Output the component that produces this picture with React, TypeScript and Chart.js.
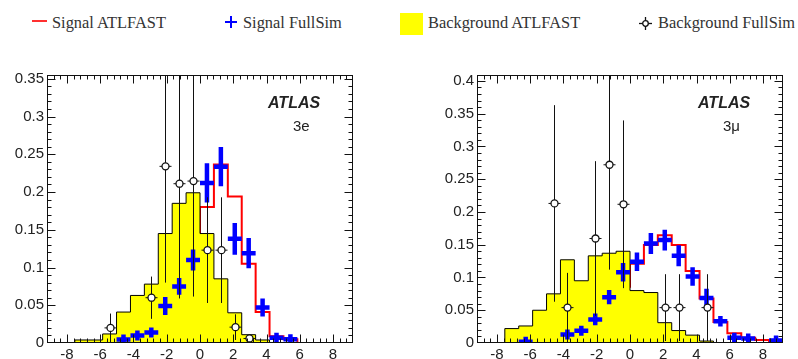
import React, { useEffect, useRef } from 'react';
import { Chart, registerables } from 'chart.js';

Chart.register(...registerables);

// ---- binning / axes ----
const X_MIN = -9.2;
const X_MAX = 9.2;
const N_BINS = 22;
const xTickValues = [-8, -6, -4, -2, 0, 2, 4, 6, 8];
const xTickLabels = ['-8', '-6', '-4', '-2', '0', '2', '4', '6', '8'];

const yMax3e = 0.355;
const yTickValues3e = [0, 0.05, 0.1, 0.15, 0.2, 0.25, 0.3, 0.35];
const yTickLabels3e = ['0', '0.05', '0.1', '0.15', '0.2', '0.25', '0.3', '0.35'];

const yMax3mu = 0.409;
const yTickValues3mu = [0, 0.05, 0.1, 0.15, 0.2, 0.25, 0.3, 0.35, 0.4];
const yTickLabels3mu = ['0', '0.05', '0.1', '0.15', '0.2', '0.25', '0.3', '0.35', '0.4'];

// ---- 3e channel ----
const bgAtlfast3e = [0, 0, 0.004, 0.004, 0.012, 0.041, 0.063, 0.078, 0.145, 0.185, 0.199, 0.145, 0.085, 0.040, 0.011, 0.004, 0, 0, 0, 0, 0, 0];
const sigAtlfast3e = [0, 0, 0, 0, 0, 0.006, 0.010, 0.012, 0.037, 0.070, 0.121, 0.180, 0.2365, 0.194, 0.105, 0.041, 0.009, 0.005, 0, 0, 0, 0];
const sigFullsim3e = [null, null, null, null, null, 0.0045, 0.010, 0.014, 0.049, 0.075, 0.110, 0.212, 0.2335, 0.138, 0.119, 0.047, 0.007, 0.005, null, null, null, null];
const sigFullsimErr3e = [0, 0, 0, 0, 0, 0.003, 0.004, 0.005, 0.012, 0.011, 0.014, 0.026, 0.026, 0.021, 0.020, 0.012, 0.003, 0.003, 0, 0, 0, 0];
const bgFullsim3e = [null, null, null, null, 0.020, null, null, 0.060, 0.234, 0.211, 0.2145, 0.123, 0.123, 0.021, 0.006, null, null, null, null, null, null, null];
const bgFullsimErr3e = [0, 0, 0, 0, 0.019, 0, 0, 0.028, 0.154, 0.152, 0.153, 0.070, 0.070, 0.017, 0.005, 0, 0, 0, 0, 0, 0, 0];

// ---- 3mu channel ----
const bgAtlfast3mu = [0, 0, 0.022, 0.026, 0.050, 0.075, 0.127, 0.095, 0.133, 0.137, 0.140, 0.080, 0.077, 0.031, 0.019, 0.012, 0.003, 0, 0, 0, 0, 0];
const sigAtlfast3mu = [0, 0, 0, 0, 0.002, 0.002, 0.012, 0.017, 0.035, 0.054, 0.086, 0.121, 0.1495, 0.1645, 0.1495, 0.110, 0.068, 0.032, 0.0147, 0.008, 0.0045, 0.001];
const sigFullsim3mu = [null, null, null, 0.002, null, null, 0.013, 0.0186, 0.036, 0.070, 0.108, 0.124, 0.152, 0.157, 0.133, 0.1015, 0.0687, 0.0333, 0.008, 0.007, null, 0.004];
const sigFullsimErr3mu = [0, 0, 0, 0.002, 0, 0, 0.004, 0.005, 0.009, 0.011, 0.014, 0.014, 0.016, 0.016, 0.016, 0.014, 0.014, 0.008, 0.003, 0.003, 0, 0.002];
const bgFullsim3mu = [null, null, null, null, null, 0.213, 0.054, null, 0.1595, 0.272, 0.2117, null, null, 0.054, 0.054, null, 0.054, null, null, null, null, null];
const bgFullsimErr3mu = [0, 0, 0, 0, 0, 0.150, 0.053, 0, 0.118, 0.160, 0.128, 0, 0, 0.051, 0.051, 0, 0.051, 0, 0, 0, 0, 0];

const edge = (i: number) => X_MIN + ((X_MAX - X_MIN) * i) / N_BINS;

function histPoints(values: number[]) {
  const pts = values.map((v, i) => ({ x: edge(i), y: v }));
  pts.push({ x: edge(N_BINS), y: values[values.length - 1] });
  return pts;
}

type PanelCfg = {
  bgAtl: number[];
  sigAtl: number[];
  sigFull: (number | null)[];
  sigFullErr: number[];
  bgFull: (number | null)[];
  bgFullErr: number[];
  yMax: number;
  yVals: number[];
  yLabels: string[];
  label: string;
};

function decorPlugin(cfg: PanelCfg) {
  return {
    id: 'rootDecor',
    afterDatasetsDraw(chart: any) {
      const { ctx, chartArea: a, scales } = chart;
      const xs = scales.x;
      const ys = scales.y;
      ctx.save();
      ctx.beginPath();
      ctx.rect(a.left, a.top, a.right - a.left, a.bottom - a.top);
      ctx.clip();

      // Signal FullSim: blue crosses
      ctx.strokeStyle = '#0000ff';
      ctx.lineWidth = 4.5;
      ctx.lineCap = 'butt';
      cfg.sigFull.forEach((v, i) => {
        if (v == null) return;
        const e = cfg.sigFullErr[i];
        const x0 = xs.getPixelForValue(edge(i));
        const x1 = xs.getPixelForValue(edge(i + 1));
        const xc = (x0 + x1) / 2;
        const y = ys.getPixelForValue(v);
        const yt = Math.min(ys.getPixelForValue(v + e), y - 5);
        const yb = Math.max(ys.getPixelForValue(v - e), y + 5);
        ctx.beginPath();
        ctx.moveTo(x0, y);
        ctx.lineTo(x1, y);
        ctx.moveTo(xc, yt);
        ctx.lineTo(xc, yb);
        ctx.stroke();
      });

      // Background FullSim: open circles with error bars
      cfg.bgFull.forEach((v, i) => {
        if (v == null) return;
        const e = cfg.bgFullErr[i];
        const x0 = xs.getPixelForValue(edge(i));
        const x1 = xs.getPixelForValue(edge(i + 1));
        const xc = Math.round((x0 + x1) / 2) + 0.5;
        const y = ys.getPixelForValue(v);
        ctx.strokeStyle = '#111';
        ctx.lineWidth = 1;
        ctx.beginPath();
        ctx.moveTo(xc, ys.getPixelForValue(v + e));
        ctx.lineTo(xc, ys.getPixelForValue(Math.max(0, v - e)));
        ctx.moveTo(xc - 6, y);
        ctx.lineTo(xc + 6, y);
        ctx.stroke();
        ctx.beginPath();
        ctx.arc(xc, y, 3.5, 0, Math.PI * 2);
        ctx.fillStyle = '#fff';
        ctx.fill();
        ctx.lineWidth = 1.3;
        ctx.stroke();
      });
      ctx.restore();

      // frame and inward ticks (top/bottom/left/right)
      ctx.save();
      ctx.strokeStyle = '#111';
      ctx.lineWidth = 1;
      const L = Math.round(a.left) + 0.5;
      const R = Math.round(a.right) - 0.5;
      const T = Math.round(a.top) + 0.5;
      const B = Math.round(a.bottom) - 0.5;
      ctx.strokeRect(L, T, R - L, B - T);
      ctx.beginPath();
      // x ticks
      for (let k = -5; k <= 45; k++) {
        const v = -8 + 0.4 * k;
        if (v <= X_MIN + 1e-6 || v >= X_MAX - 1e-6) continue;
        const major = k % 5 === 0;
        const len = major ? 8 : 4;
        const px = Math.round(xs.getPixelForValue(v)) + 0.5;
        ctx.moveTo(px, B);
        ctx.lineTo(px, B - len);
        ctx.moveTo(px, T);
        ctx.lineTo(px, T + len);
      }
      // y ticks
      for (let k = 0; k * 0.01 <= cfg.yMax + 1e-9; k++) {
        const v = k * 0.01;
        const major = k % 5 === 0;
        const len = major ? 8 : 4;
        const py = Math.round(ys.getPixelForValue(v)) + 0.5;
        if (py <= T + 0.1 || py >= B - 0.1) continue;
        ctx.moveTo(L, py);
        ctx.lineTo(L + len, py);
        ctx.moveTo(R, py);
        ctx.lineTo(R - len, py);
      }
      ctx.stroke();

      // ATLAS label and channel
      ctx.fillStyle = '#222';
      ctx.textBaseline = 'alphabetic';
      ctx.textAlign = 'left';
      ctx.font = 'italic bold 16px "Liberation Sans", Arial, sans-serif';
      ctx.fillText('ATLAS', a.right - 85, a.top + 33);
      ctx.font = '15px "Liberation Sans", Arial, sans-serif';
      ctx.fillText(cfg.label, a.right - 60, a.top + 56);
      ctx.restore();
    },
  };
}

function Panel({ cfg, left, width, padLeft, padRight }: { cfg: PanelCfg; left: number; width: number; padLeft: number; padRight: number }) {
  const ref = useRef<HTMLCanvasElement | null>(null);
  useEffect(() => {
    if (!ref.current) return;
    const tickFont = { family: '"Liberation Sans", Arial, sans-serif', size: 15 };
    const chart = new Chart(ref.current, {
      type: 'line',
      data: {
        datasets: [
          {
            label: 'Background ATLFAST',
            data: histPoints(cfg.bgAtl),
            stepped: true,
            borderColor: '#000',
            borderWidth: 1,
            backgroundColor: '#ffff00',
            fill: 'origin',
            pointRadius: 0,
          },
          {
            label: 'Signal ATLFAST',
            data: histPoints(cfg.sigAtl),
            stepped: true,
            borderColor: '#ff0000',
            borderWidth: 2,
            fill: false,
            pointRadius: 0,
          },
        ],
      },
      options: {
        animation: false,
        responsive: false,
        devicePixelRatio: 1,
        layout: { padding: { left: padLeft, right: padRight, top: 75, bottom: 0 } },
        plugins: { legend: { display: false }, tooltip: { enabled: false } },
        scales: {
          x: {
            type: 'linear',
            min: X_MIN,
            max: X_MAX,
            afterBuildTicks: (s: any) => {
              s.ticks = xTickValues.map((v) => ({ value: v }));
            },
            afterFit: (s: any) => {
              s.height = 16;
            },
            grid: { display: false, drawTicks: false },
            border: { display: false },
            ticks: {
              autoSkip: false,
              maxRotation: 0,
              padding: 3,
              color: '#222',
              font: tickFont,
              callback: (_v: any, i: number) => xTickLabels[i],
            },
          },
          y: {
            type: 'linear',
            min: 0,
            max: cfg.yMax,
            afterBuildTicks: (s: any) => {
              s.ticks = cfg.yVals.map((v) => ({ value: v }));
            },
            afterFit: (s: any) => {
              s.width = 40;
            },
            grid: { display: false, drawTicks: false },
            border: { display: false },
            ticks: {
              autoSkip: false,
              padding: 3,
              color: '#222',
              font: tickFont,
              callback: (_v: any, i: number) => cfg.yLabels[i],
            },
          },
        },
      },
      plugins: [decorPlugin(cfg)],
    } as any);
    return () => chart.destroy();
  }, []);
  return (
    <div style={{ position: 'absolute', left, top: 0, width, height: 359 }}>
      <canvas ref={ref} width={width} height={359} style={{ width, height: 359, display: 'block' }} />
    </div>
  );
}

const legendFont: React.CSSProperties = {
  position: 'absolute',
  fontFamily: '"Liberation Serif", "Times New Roman", serif',
  fontSize: 16.4,
  lineHeight: '20px',
  color: '#333',
  whiteSpace: 'nowrap',
  top: 13,
};

export default function App() {
  const cfg3e: PanelCfg = {
    bgAtl: bgAtlfast3e,
    sigAtl: sigAtlfast3e,
    sigFull: sigFullsim3e,
    sigFullErr: sigFullsimErr3e,
    bgFull: bgFullsim3e,
    bgFullErr: bgFullsimErr3e,
    yMax: yMax3e,
    yVals: yTickValues3e,
    yLabels: yTickLabels3e,
    label: '3e',
  };
  const cfg3mu: PanelCfg = {
    bgAtl: bgAtlfast3mu,
    sigAtl: sigAtlfast3mu,
    sigFull: sigFullsim3mu,
    sigFullErr: sigFullsimErr3mu,
    bgFull: bgFullsim3mu,
    bgFullErr: bgFullsimErr3mu,
    yMax: yMax3mu,
    yVals: yTickValues3mu,
    yLabels: yTickLabels3mu,
    label: '3\u03bc',
  };
  return (
    <div style={{ position: 'fixed', left: 0, top: 0, width: 798, height: 359, background: '#fff', overflow: 'hidden' }}>
      {/* legend */}
      <div style={{ position: 'absolute', left: 32, top: 20, width: 15, height: 2, background: '#ff3030' }} />
      <div style={{ ...legendFont, left: 52 }}>Signal ATLFAST</div>
      <svg style={{ position: 'absolute', left: 224, top: 15 }} width={14} height={14}>
        <line x1={1} y1={7} x2={13} y2={7} stroke="#0000ff" strokeWidth={2} />
        <line x1={7} y1={1} x2={7} y2={13} stroke="#0000ff" strokeWidth={2} />
      </svg>
      <div style={{ ...legendFont, left: 243 }}>Signal FullSim</div>
      <div style={{ position: 'absolute', left: 400, top: 13, width: 23, height: 22, background: '#ffff00' }} />
      <div style={{ ...legendFont, left: 428 }}>Background ATLFAST</div>
      <svg style={{ position: 'absolute', left: 638, top: 16, }} width={15} height={15}>
        <line x1={1} y1={7.5} x2={14} y2={7.5} stroke="#111" strokeWidth={1.3} />
        <line x1={7.5} y1={1} x2={7.5} y2={14} stroke="#111" strokeWidth={1.3} />
        <circle cx={7.5} cy={7.5} r={2.8} fill="#fff" stroke="#111" strokeWidth={1.3} />
      </svg>
      <div style={{ ...legendFont, left: 658 }}>Background FullSim</div>

      <Panel cfg={cfg3e} left={0} width={420} padLeft={7} padRight={67} />
      <Panel cfg={cfg3mu} left={420} width={378} padLeft={17} padRight={15} />
    </div>
  );
}
